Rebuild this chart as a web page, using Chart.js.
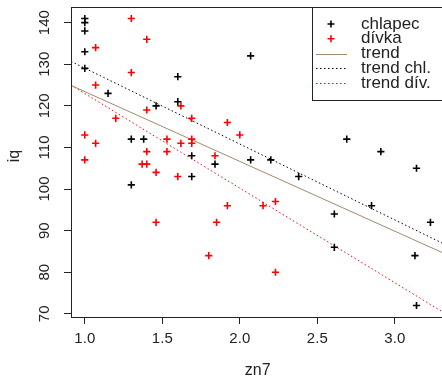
<!DOCTYPE html>
<html>
<head>
<meta charset="utf-8">
<script src="https://cdn.jsdelivr.net/npm/chart.js@4"></script>
<style>
  html, body { margin: 0; padding: 0; overflow: hidden; background: #fff; }
</style>
</head>
<body>
<canvas id="graf" width="450" height="379"></canvas>
<script>
// zn7 / iq, chlapci a dívky
const boysZn7 = [1.0, 1.0, 1.0, 1.0, 1.0, 1.15, 1.30, 1.38, 1.30, 1.46, 1.60, 1.60, 2.07, 1.69,
                 1.69, 1.84, 2.07, 2.20, 2.38, 2.69, 2.91, 3.14, 2.85, 2.61, 3.23, 2.61, 3.13, 3.14];
const boysIq  = [141, 140, 138, 133, 129, 123, 112, 112, 101, 120, 127, 121, 132, 108,
                 103, 106, 107, 107, 103, 112, 109, 105, 96, 94, 92, 86, 84, 72];

const girlsZn7 = [1.30, 1.40, 1.07, 1.30, 1.07, 1.20, 1.40, 1.62, 1.00, 1.07, 1.40, 1.53, 1.53, 1.62, 1.69, 1.92,
                  2.00, 1.69, 1.69, 1.84, 1.00, 1.37, 1.40, 1.46, 1.60, 1.46, 1.92, 2.15, 2.23, 1.85, 1.80, 2.23];
const girlsIq  = [141, 136, 134, 128, 125, 117, 119, 120, 113, 111, 109, 112, 109, 111, 117, 116,
                  113, 112, 111, 108, 107, 106, 106, 104, 103, 92, 96, 96, 97, 92, 84, 80];

// regresní přímky: [abs. člen, sklon]
const trendAll   = [140.2, -16.78];
const trendBoys  = [147.3, -18.24];
const trendGirls = [145.7, -22.74];

const seriesLabels = ['chlapec', 'dívka', 'trend', 'trend chl.', 'trend dív.'];
const xTicks = [1.0, 1.5, 2.0, 2.5, 3.0];
const yTicks = [70, 80, 90, 100, 110, 120, 130, 140];

const X_MIN = 0.911, X_MAX = 3.32;
const Y_MIN = 69.24, Y_MAX = 143.76;
const FONT = '"Liberation Sans", Arial, sans-serif';
const INK = '#222';

const toPoints = (xs, ys) => xs.map((x, i) => ({ x: x, y: ys[i] }));
const linePoints = c => [X_MIN, X_MAX].map(x => ({ x: x, y: c[0] + c[1] * x }));

// rámeček, popisky osy y a legenda ve stylu R
const rPlot = {
  id: 'rPlot',
  afterDraw(chart) {
    const { ctx, chartArea: a, scales } = chart;
    ctx.save();
    ctx.strokeStyle = INK;
    ctx.lineWidth = 1;
    ctx.strokeRect(Math.round(a.left) + 0.5, Math.round(a.top) + 0.5,
                   Math.round(a.right - a.left), Math.round(a.bottom - a.top));

    ctx.fillStyle = INK;
    ctx.textAlign = 'center';
    ctx.textBaseline = 'middle';
    ctx.font = '15px ' + FONT;
    yTicks.forEach(v => {
      ctx.save();
      ctx.translate(45, scales.y.getPixelForValue(v));
      ctx.rotate(-Math.PI / 2);
      ctx.fillText(String(v), 0, 0);
      ctx.restore();
    });
    ctx.font = '16px ' + FONT;
    ctx.save();
    ctx.translate(15, 156);
    ctx.rotate(-Math.PI / 2);
    ctx.fillText('iq', 0, 0);
    ctx.restore();

    // legenda
    const lx = 312, ly = 7, lb = 100;
    ctx.fillStyle = '#fff';
    ctx.fillRect(lx + 0.5, ly + 0.5, a.right - lx, lb - ly);
    ctx.strokeStyle = INK;
    ctx.strokeRect(lx + 0.5, ly + 0.5, a.right - lx, lb - ly);
    ctx.textAlign = 'left';
    ctx.font = '17px ' + FONT;
    chart.data.datasets.forEach((ds, i) => {
      const yy = 24 + i * 14.8;
      ctx.save();
      ctx.strokeStyle = ds.borderColor;
      if (ds.showLine) {
        ctx.lineWidth = ds.borderWidth;
        ctx.setLineDash(ds.borderDash || []);
        ctx.beginPath();
        ctx.moveTo(316, Math.round(yy) + 0.5);
        ctx.lineTo(347, Math.round(yy) + 0.5);
        ctx.stroke();
      } else {
        ctx.lineWidth = ds.borderWidth;
        ctx.beginPath();
        ctx.moveTo(331 - 3.5, yy); ctx.lineTo(331 + 3.5, yy);
        ctx.moveTo(331, yy - 3.5); ctx.lineTo(331, yy + 3.5);
        ctx.stroke();
      }
      ctx.restore();
      ctx.fillStyle = INK;
      ctx.fillText(ds.label, 361, yy);
    });
    ctx.restore();
  }
};

const pointSet = (label, xs, ys, color) => ({
  label: label,
  data: toPoints(xs, ys),
  pointStyle: 'cross',
  pointRadius: 3.6,
  borderColor: color,
  borderWidth: 1.6,
  showLine: false
});
const lineSet = (label, coef, color, dash) => ({
  label: label,
  data: linePoints(coef),
  showLine: true,
  pointRadius: 0,
  borderColor: color,
  borderWidth: 1,
  borderDash: dash
});

new Chart(document.getElementById('graf').getContext('2d'), {
  type: 'scatter',
  data: {
    datasets: [
      pointSet(seriesLabels[0], boysZn7, boysIq, '#000'),
      pointSet(seriesLabels[1], girlsZn7, girlsIq, '#ff0000'),
      lineSet(seriesLabels[2], trendAll, '#a08a6e', []),
      lineSet(seriesLabels[3], trendBoys, '#000', [1.5, 2.5]),
      lineSet(seriesLabels[4], trendGirls, '#ff0000', [1.5, 2.5])
    ]
  },
  options: {
    responsive: false,
    animation: false,
    layout: { padding: { left: 0, top: 7, right: 5, bottom: 0 } },
    plugins: { legend: { display: false }, tooltip: { enabled: false } },
    scales: {
      x: {
        type: 'linear',
        min: X_MIN,
        max: X_MAX,
        afterFit: s => { s.height = 62; },
        afterBuildTicks: s => { s.ticks = xTicks.map(v => ({ value: v })); },
        grid: { drawOnChartArea: false, drawTicks: true, tickLength: 7, color: INK },
        border: { display: false },
        ticks: {
          color: INK, padding: 6, maxRotation: 0, autoSkip: false,
          font: { family: FONT, size: 15 },
          callback: v => Number(v).toFixed(1)
        },
        title: { display: true, text: 'zn7', color: INK, padding: 0,
                 font: { family: FONT, size: 16, lineHeight: 1 } }
      },
      y: {
        type: 'linear',
        min: Y_MIN,
        max: Y_MAX,
        afterFit: s => { s.width = 71; },
        afterBuildTicks: s => { s.ticks = yTicks.map(v => ({ value: v })); },
        grid: { drawOnChartArea: false, drawTicks: true, tickLength: 7, color: INK },
        border: { display: false },
        ticks: { display: false }
      }
    }
  },
  plugins: [rPlot]
});
</script>
</body>
</html>
